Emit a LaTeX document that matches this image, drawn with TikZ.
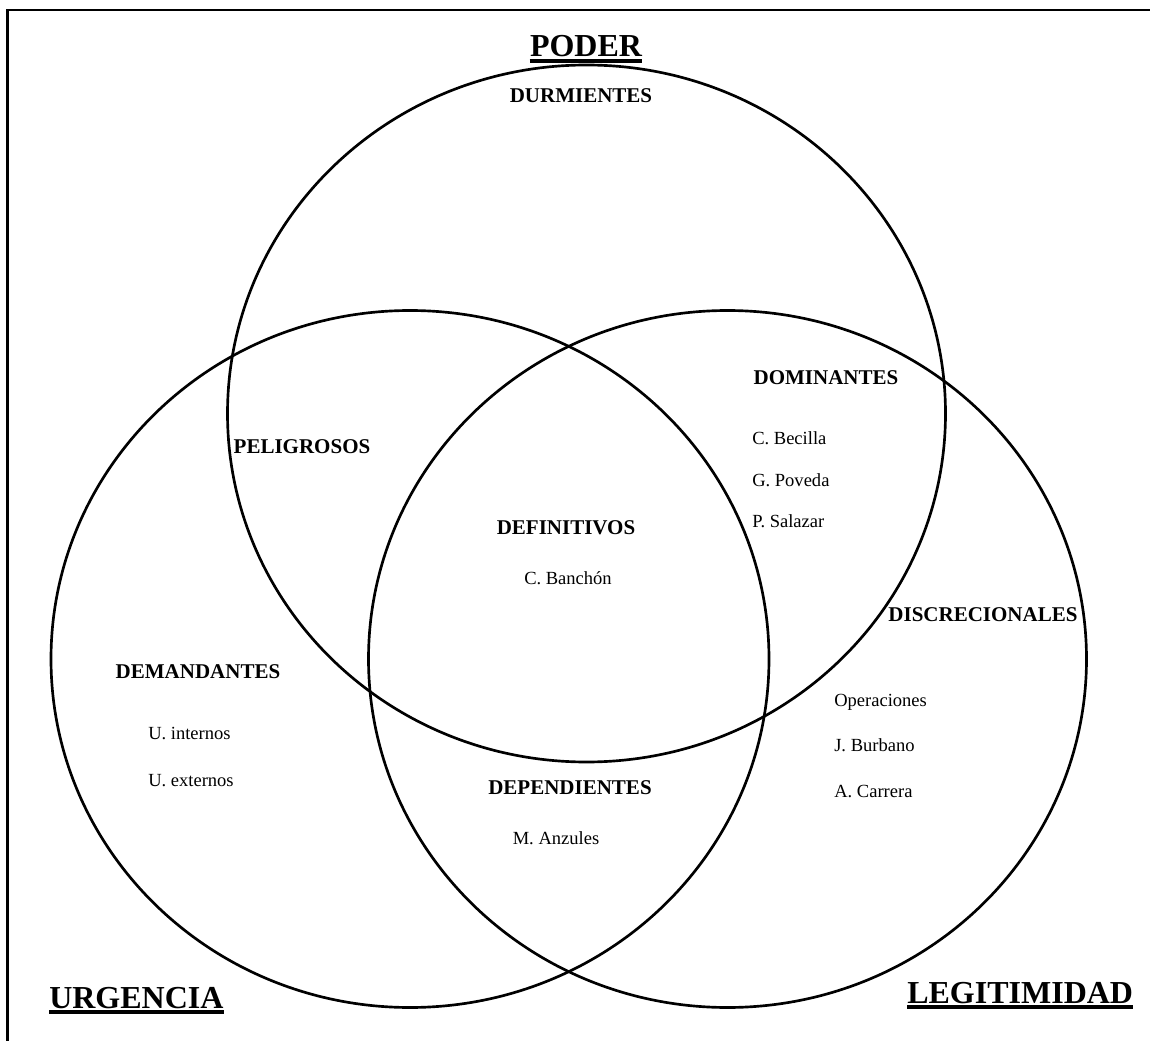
\documentclass[tikz,border=0pt]{standalone}
\usepackage{fontspec}
\setmainfont{Liberation Serif}
\usetikzlibrary{calc}
\begin{document}
\begin{tikzpicture}[x=0.75pt,y=-0.75pt,
  venn/.style={line width=2pt},
  head/.style={font=\bfseries\fontsize{15.75}{18}\selectfont, inner sep=0pt, anchor=base},
  item/.style={font=\fontsize{13.9}{16}\selectfont, inner sep=0pt, anchor=base west},
  ttl/.style={font=\bfseries\fontsize{24}{28}\selectfont, inner sep=0pt},
  uline/.style={line width=2.4pt}]
\useasboundingbox (0,0) rectangle (1150,1041);
\fill[white] (0,0) rectangle (1150,1041);
\draw[line width=1.8pt] (7.5,1041) -- (7.5,9.8) -- (1150,9.8);
% circles
\draw[venn] (586.5,413.5) ellipse [x radius=359, y radius=348.5];
\draw[venn] (410,659) ellipse [x radius=359, y radius=348.5];
\draw[venn] (727.5,659) ellipse [x radius=359, y radius=348.5];
% titles
\node[ttl, anchor=base] (poder) at (586,57) {PODER};
\draw[uline] ($(poder.base west)+(0,4)$) -- ($(poder.base east)+(0,4)$);
\node[ttl, anchor=base west] (urgencia) at (49,1008) {URGENCIA};
\draw[uline] ($(urgencia.base west)+(0,4)$) -- ($(urgencia.base east)+(0,4)$);
\node[ttl, anchor=base west] (legitimidad) at (907,1003) {LEGITIMIDAD};
\draw[uline] ($(legitimidad.base west)+(0,4)$) -- ($(legitimidad.base east)+(0,4)$);
% region headings
\node[head] (durmientes) at (581,103) {DURMIENTES};
\node[head] (dominantes) at (826,384) {DOMINANTES};
\node[head] (peligrosos) at (302,453) {PELIGROSOS};
\node[head] (definitivos) at (566,534) {DEFINITIVOS};
\node[head] (discrecionales) at (983,621) {DISCRECIONALES};
\node[head] (demandantes) at (198,678) {DEMANDANTES};
\node[head] (dependientes) at (570,794) {DEPENDIENTES};
% items
\node[item] (becilla) at (752,444) {C. Becilla};
\node[item] (poveda) at (752,486) {G. Poveda};
\node[item] (salazar) at (752,527) {P. Salazar};
\node[item, anchor=base] (banchon) at (568,584) {C. Banchón};
\node[item] (operaciones) at (834,706) {Operaciones};
\node[item] (burbano) at (834,751) {J. Burbano};
\node[item] (carrera) at (834,797) {A. Carrera};
\node[item] (internos) at (148,739) {U. internos};
\node[item] (externos) at (148,786) {U. externos};
\node[item, anchor=base] (anzules) at (556,844) {M. Anzules};
\end{tikzpicture}
\end{document}
